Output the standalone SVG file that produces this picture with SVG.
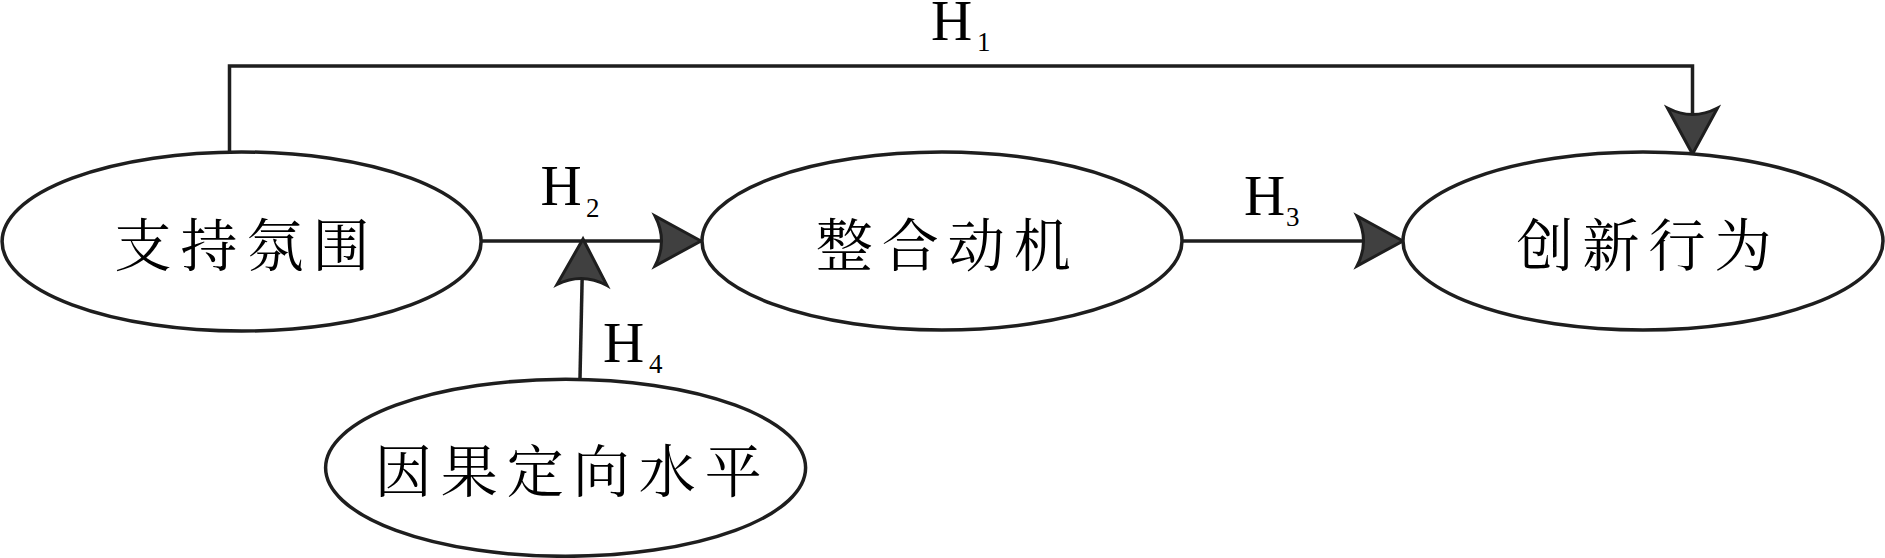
<svg xmlns="http://www.w3.org/2000/svg" width="1885" height="558" viewBox="0 0 1885 558">
<style>
.node ellipse{fill:#fff;stroke:#1e1e1e;stroke-width:3.5}
.node text{font-family:"Noto Serif CJK SC","Noto Sans CJK SC",serif;font-size:57px;letter-spacing:9px;text-anchor:middle;dominant-baseline:central;fill:#000}
.conn{fill:none;stroke:#1e1e1e;stroke-width:3.5}
.lbl{font-family:"Liberation Serif","Times New Roman",serif;fill:#000}
.lbl .h{font-size:57px}
.lbl .s{font-size:27px}
</style>
<defs>
<marker id="arr" viewBox="-52 -32 58 64" refX="0" refY="0" markerWidth="58" markerHeight="64" markerUnits="userSpaceOnUse" orient="auto">
<path d="M0,0 L-46,-25 Q-33,0 -46,25 Z" fill="#404040" stroke="#1e1e1e" stroke-width="3" stroke-linejoin="miter"/>
</marker>
</defs>
<rect width="1885" height="558" fill="#fff"/>
<g id="connectors">
<path class="conn" d="M229.5,153 V66 H1692.5 V154" marker-end="url(#arr)"/>
<path class="conn" d="M481,241 H701" marker-end="url(#arr)"/>
<path class="conn" d="M1182,241 H1403" marker-end="url(#arr)"/>
<path class="conn" d="M580,378 L583,239" marker-end="url(#arr)"/>
</g>
<g id="n1" class="node"><ellipse cx="241.6" cy="241.5" rx="239.5" ry="89.5"/><text x="246.5" y="241">支持氛围</text></g>
<g id="n2" class="node"><ellipse cx="942" cy="241" rx="240" ry="89"/><text x="947.8" y="241">整合动机</text></g>
<g id="n3" class="node"><ellipse cx="1643" cy="241" rx="240" ry="89"/><text x="1648.5" y="241">创新行为</text></g>
<g id="n4" class="node"><ellipse cx="565.6" cy="467.8" rx="240" ry="88.5"/><text x="572.8" y="466.7">因果定向水平</text></g>
<g id="labels">
<text class="lbl"><tspan class="h" x="931" y="40">H</tspan><tspan class="s" x="977" y="50.7">1</tspan></text>
<text class="lbl"><tspan class="h" x="540.5" y="205">H</tspan><tspan class="s" x="586" y="216.7">2</tspan></text>
<text class="lbl"><tspan class="h" x="1244" y="215">H</tspan><tspan class="s" x="1286" y="226">3</tspan></text>
<text class="lbl"><tspan class="h" x="603" y="361.7">H</tspan><tspan class="s" x="649" y="373">4</tspan></text>
</g>
</svg>
